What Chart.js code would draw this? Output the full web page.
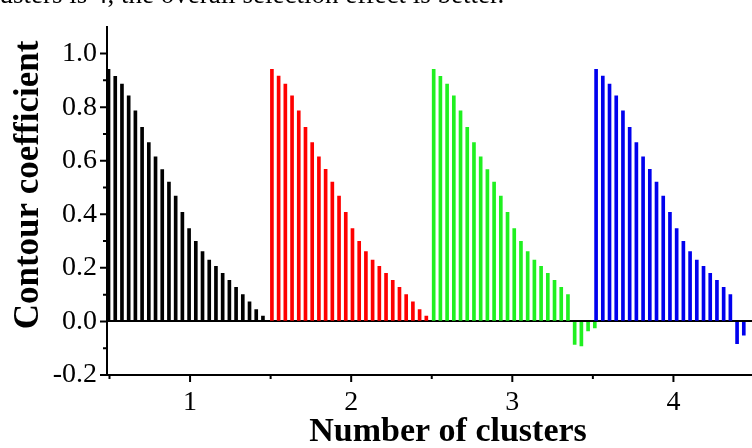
<!DOCTYPE html>
<html lang="en">
<head>
    <meta charset="UTF-8">
    <title>Contour coefficient</title>
    <script src="https://cdn.jsdelivr.net/npm/chart.js"></script>
    <style>
        body {
            margin: 0;
            background: white;
        }
        .wrap {
            position: relative;
            width: 752px;
            height: 448px;
            overflow: hidden;
            background: white;
        }
        .cut-text {
            position: absolute;
            top: -21px;
            left: -20px;
            font-family: 'Liberation Serif', serif;
            font-size: 27px;
            line-height: 31px;
            white-space: nowrap;
            color: #000;
        }
    </style>
</head>
<body>
    <div class="wrap">
        <canvas id="grafico"></canvas>
        <div class="cut-text">clusters is 4, the overall selection effect is better.</div>
    </div>
    <script>
        // one run of bars per number of clusters
        const clusterStarts = [0.494, 1.508, 2.512, 3.52];
        const barStep = 1 / 24;
        const clusterColors = ["#000000", "#ff0000", "#20f020", "#0000ee"];

        const valori1 = [0.941, 0.915, 0.886, 0.842, 0.786, 0.725, 0.668, 0.615, 0.567, 0.520, 0.468, 0.407,
                         0.347, 0.299, 0.261, 0.229, 0.206, 0.180, 0.153, 0.127, 0.100, 0.073, 0.044, 0.020];
        const valori2 = [0.941, 0.916, 0.886, 0.842, 0.786, 0.725, 0.668, 0.615, 0.568, 0.520, 0.468, 0.407,
                         0.347, 0.299, 0.261, 0.229, 0.206, 0.180, 0.153, 0.127, 0.100, 0.073, 0.044, 0.020];
        const valori3 = [0.941, 0.915, 0.886, 0.842, 0.786, 0.725, 0.668, 0.615, 0.567, 0.520, 0.468, 0.407,
                         0.347, 0.299, 0.261, 0.229, 0.206, 0.180, 0.153, 0.127, 0.100,
                         -0.086, -0.091, -0.035, -0.024];
        const valori4 = [0.941, 0.916, 0.886, 0.842, 0.786, 0.725, 0.668, 0.615, 0.568, 0.520, 0.468, 0.407,
                         0.347, 0.299, 0.261, 0.229, 0.206, 0.180, 0.153, 0.127, 0.100,
                         -0.083, -0.051];
        const tuttiValori = [valori1, valori2, valori3, valori4];

        const xMajorTicks = [1, 2, 3, 4];
        const xMinorTicks = [0.5, 1.5, 2.5, 3.5];
        const yMajorTicks = [-0.2, 0.0, 0.2, 0.4, 0.6, 0.8, 1.0];
        const yMinorTicks = [-0.1, 0.1, 0.3, 0.5, 0.7, 0.9];

        const serif = "'Liberation Serif', 'Times New Roman', serif";

        const datasets = tuttiValori.map((valori, k) => ({
            label: "k = " + (k + 1),
            data: valori.map((v, i) => ({ x: clusterStarts[k] + i * barStep, y: v })),
            backgroundColor: clusterColors[k],
            borderWidth: 0,
            barThickness: 3,
            grouped: false
        }));

        // tick marks: long at the labelled values, short in between
        const tacchePlugin = {
            id: "tacche",
            afterDraw(chart) {
                const c = chart.ctx;
                const xs = chart.scales.x;
                const ys = chart.scales.y;
                c.save();
                c.strokeStyle = "#000";
                c.lineWidth = 2;
                const yAxisX = xs.left;
                const xAxisY = ys.bottom;
                c.beginPath();
                yMajorTicks.forEach(v => { const p = ys.getPixelForValue(v); c.moveTo(yAxisX, p); c.lineTo(yAxisX - 7, p); });
                yMinorTicks.forEach(v => { const p = ys.getPixelForValue(v); c.moveTo(yAxisX, p); c.lineTo(yAxisX - 4, p); });
                xMajorTicks.forEach(v => { const p = xs.getPixelForValue(v); c.moveTo(p, xAxisY); c.lineTo(p, xAxisY + 7); });
                xMinorTicks.forEach(v => { const p = xs.getPixelForValue(v); c.moveTo(p, xAxisY); c.lineTo(p, xAxisY + 4); });
                c.stroke();

                // axis titles
                c.fillStyle = "#000";
                c.font = "bold 34px " + serif;
                c.textAlign = "center";
                c.textBaseline = "alphabetic";
                c.fillText("Number of clusters", 448, 441);
                c.font = "bold 35px " + serif;
                c.textBaseline = "middle";
                c.translate(29, 185);
                c.rotate(-Math.PI / 2);
                c.fillText("Contour coefficient", 0, 0);
                c.restore();
            }
        };

        function creaGrafico() {
            const ctx = document.getElementById("grafico").getContext("2d");
            new Chart(ctx, {
                type: "bar",
                data: { datasets: datasets },
                plugins: [tacchePlugin],
                options: {
                    responsive: true,
                    maintainAspectRatio: false,
                    animation: false,
                    layout: { padding: { top: 7, right: 0, left: 0, bottom: 0 } },
                    plugins: {
                        legend: { display: false },
                        tooltip: { enabled: false }
                    },
                    scales: {
                        x: {
                            type: "linear",
                            min: 0.4845,
                            max: 4.4876,
                            offset: false,
                            afterFit(scale) { scale.height = 73; },
                            afterBuildTicks(scale) { scale.ticks = xMajorTicks.map(v => ({ value: v })); },
                            border: { display: true, color: "#000", width: 2 },
                            grid: { display: false, offset: false },
                            ticks: {
                                color: "#000",
                                padding: 3,
                                maxRotation: 0,
                                autoSkip: false,
                                font: { family: serif, size: 28 },
                                callback: v => String(v)
                            }
                        },
                        y: {
                            min: -0.2,
                            max: 1.1,
                            afterFit(scale) { scale.width = 107; },
                            afterBuildTicks(scale) { scale.ticks = yMajorTicks.map(v => ({ value: v })); },
                            border: { display: true, color: "#000", width: 2 },
                            grid: {
                                drawTicks: false,
                                lineWidth: 2,
                                color: c => (c.tick && c.tick.value === 0) ? "#000" : "rgba(0,0,0,0)"
                            },
                            ticks: {
                                color: "#000",
                                padding: 10,
                                font: { family: serif, size: 28 },
                                callback: v => v.toFixed(1)
                            }
                        }
                    }
                }
            });
        }

        document.addEventListener("DOMContentLoaded", creaGrafico);
    </script>
</body>
</html>
